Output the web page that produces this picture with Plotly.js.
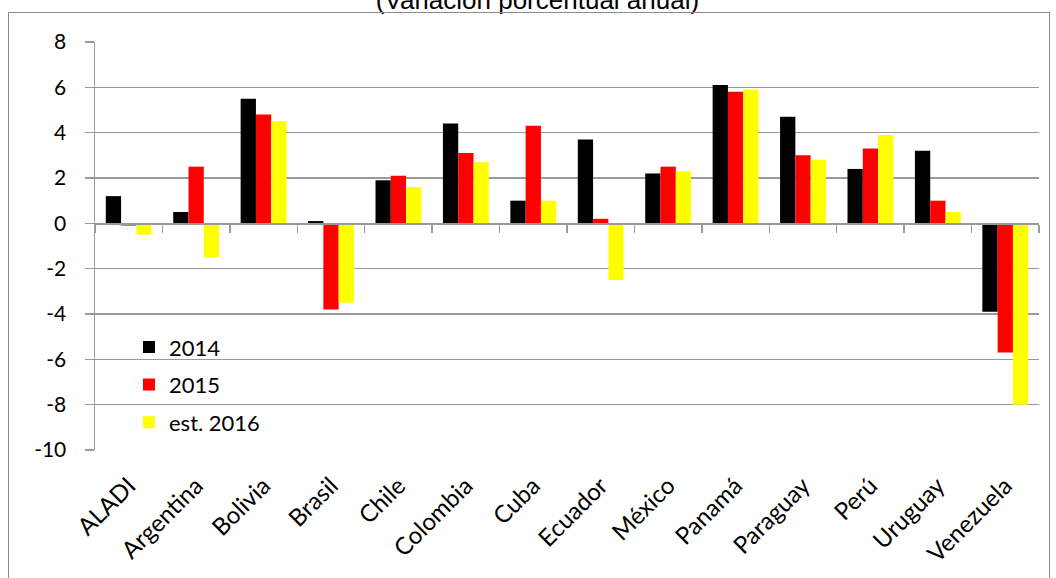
<!DOCTYPE html>
<html>
<head>
<meta charset="utf-8">
<script src="https://cdn.plot.ly/plotly-3.0.1.min.js"></script>
<style>
  html, body { margin: 0; padding: 0; background: #fff; }
  #wrap { position: relative; width: 1056px; height: 578px; overflow: hidden; }
  #frame { position: absolute; left: 8px; top: 12px; width: 1042px; height: 600px; border: 1px solid #8c8c8c; box-sizing: border-box; pointer-events: none; }
  #chart { position: absolute; left: 0; top: 0; width: 1056px; height: 578px; }
</style>
</head>
<body>
<div id="wrap">
  <div id="chart"></div>
  <div id="frame"></div>
</div>
<script>
const categories = ["ALADI", "Argentina", "Bolivia", "Brasil", "Chile", "Colombia", "Cuba", "Ecuador", "México", "Panamá", "Paraguay", "Perú", "Uruguay", "Venezuela"];
const seriesNames = ["2014", "2015", "est. 2016"];
const values2014 = [1.2, 0.5, 5.5, 0.1, 1.9, 4.4, 1.0, 3.7, 2.2, 6.1, 4.7, 2.4, 3.2, -3.9];
const values2015 = [-0.1, 2.5, 4.8, -3.8, 2.1, 3.1, 4.3, 0.2, 2.5, 5.8, 3.0, 3.3, 1.0, -5.7];
const values2016 = [-0.5, -1.5, 4.5, -3.5, 1.6, 2.7, 1.0, -2.5, 2.3, 5.9, 2.8, 3.9, 0.5, -8.0];
const yTicks = [-10, -8, -6, -4, -2, 0, 2, 4, 6, 8];
const titleText = "(Variación porcentual anual)";

const colors = ["#000000", "#ff0000", "#ffff00"];
const allValues = [values2014, values2015, values2016];

const traces = allValues.map((vals, i) => ({
  type: "bar",
  name: seriesNames[i],
  x: categories,
  y: vals,
  marker: { color: colors[i], line: { width: 0 } },
  legendgroup: "g" + i,
  hoverinfo: "x+y+name"
}));

// invisible trace to carry the zero-level tick axis
traces.push({
  type: "scatter",
  mode: "markers",
  x: categories,
  y: categories.map(() => 0),
  xaxis: "x2",
  yaxis: "y",
  marker: { opacity: 0 },
  showlegend: false,
  hoverinfo: "skip"
});

const gridColor = "#9a9a9a";
const labelFont = { family: "Lato, 'Open Sans', sans-serif", size: 24, color: "#000" };

const layout = {
  width: 1056,
  height: 578,
  margin: { l: 95, r: 17, t: 41.5, b: 128 },
  paper_bgcolor: "rgba(0,0,0,0)",
  plot_bgcolor: "rgba(0,0,0,0)",
  barmode: "group",
  bargap: 0.32,
  bargroupgap: 0,
  showlegend: true,
  title: {
    text: titleText,
    font: { family: "'Liberation Sans Narrow', 'Liberation Sans', Arial, sans-serif", size: 26, color: "#000" },
    x: 0.509,
    xanchor: "center",
    xref: "container",
    yref: "container",
    y: 1.0,
    yanchor: "middle"
  },
  legend: {
    x: 0.036,
    y: 0.16,
    xanchor: "left",
    yanchor: "middle",
    bgcolor: "rgba(255,255,255,0)",
    font: { family: "Lato, 'Open Sans', sans-serif", size: 22, color: "#000" },
    traceorder: "grouped",
    tracegroupgap: 6,
    itemwidth: 30
  },
  xaxis: {
    type: "category",
    categoryarray: categories,
    categoryorder: "array",
    range: [-0.5, 13.5],
    showgrid: false,
    showline: false,
    zeroline: false,
    ticks: "",
    tickangle: -45,
    tickfont: labelFont,
    ticklabelstandoff: 16,
    fixedrange: true
  },
  xaxis2: {
    type: "category",
    overlaying: "x",
    matches: "x",
    anchor: "free",
    position: 10 / 18,
    side: "bottom",
    showline: true,
    linecolor: gridColor,
    linewidth: 1.5,
    ticks: "outside",
    tickson: "boundaries",
    ticklen: 8,
    tickwidth: 1.5,
    tickcolor: gridColor,
    showticklabels: false,
    showgrid: false,
    zeroline: false
  },
  yaxis: {
    range: [-10, 8],
    tickvals: yTicks,
    ticktext: yTicks.map(String),
    showgrid: true,
    gridcolor: gridColor,
    gridwidth: 1.5,
    zeroline: false,
    showline: true,
    linecolor: gridColor,
    linewidth: 1.5,
    ticks: "outside",
    ticklen: 9,
    tickwidth: 1.5,
    tickcolor: gridColor,
    tickfont: { family: "Lato, 'Open Sans', sans-serif", size: 21, color: "#000" },
    ticklabelstandoff: 14,
    fixedrange: true
  }
};

Plotly.newPlot("chart", traces, layout, { displayModeBar: false, staticPlot: true });
</script>
</body>
</html>
